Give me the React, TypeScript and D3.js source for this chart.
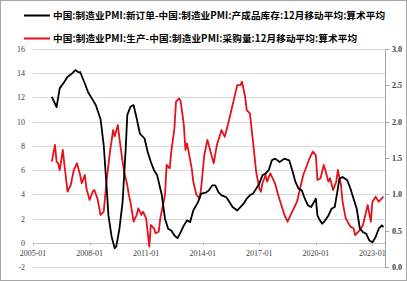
import React from "react";
import * as d3 from "d3";

const blackLabel = "中国:制造业PMI:新订单-中国:制造业PMI:产成品库存:12月移动平均:算术平均";
const redLabel = "中国:制造业PMI:生产-中国:制造业PMI:采购量:12月移动平均:算术平均";

const xTickLabels = ["2005-01", "2008-01", "2011-01", "2014-01", "2017-01", "2020-01", "2023-01"];
const leftTicks = [-2, 0, 2, 4, 6, 8, 10, 12, 14, 16];
const rightTicks = [0, 0.5, 1, 1.5, 2, 2.5, 3];

const blackDates = [
  "2006-01","2006-04","2006-06","2006-09","2006-11","2007-02","2007-04","2007-06","2007-07","2007-10",
  "2007-12","2008-03","2008-05","2008-08","2008-10","2008-12","2009-01","2009-03","2009-05","2009-06",
  "2009-08","2009-10","2009-12","2010-01","2010-03","2010-05","2010-07","2010-09","2010-12","2011-02",
  "2011-04","2011-06","2011-08","2011-11","2012-01","2012-03","2012-05","2012-07","2012-09","2012-11",
  "2013-01","2013-03","2013-05","2013-07","2013-10","2013-12","2014-03","2014-05","2014-07","2014-09",
  "2014-11","2015-01","2015-04","2015-06","2015-08","2015-11","2016-01","2016-03","2016-05","2016-07",
  "2016-09","2017-01","2017-03","2017-05","2017-07","2017-09","2017-11","2018-02","2018-05","2018-08",
  "2018-10","2018-12","2019-02","2019-04","2019-06","2019-08","2019-10","2020-01","2020-02","2020-03",
  "2020-05","2020-07","2020-09","2020-11","2021-01","2021-03","2021-04","2021-06","2021-09","2021-11",
  "2022-01","2022-03","2022-05","2022-07","2022-09","2022-11","2023-01","2023-03","2023-05","2023-07",
  "2023-08"
];
const blackValues = [
  12.05, 11.2, 12.75, 13.3, 13.7, 14.0, 14.26, 14.07, 14.1, 13.15,
  12.45, 11.8, 11.35, 10.2, 8.05, 4.33, 2.26, 0.52, -0.45, -0.3,
  1.16, 3.36, 7.78, 10.54, 11.23, 11.37, 10.26, 9.02, 8.61, 7.5,
  6.67, 5.99, 5.57, 3.92, 1.99, 1.16, 1.02, 0.6, 0.38, 0.88,
  1.43, 1.85, 1.71, 2.67, 3.36, 4.06, 4.14, 4.33, 4.74, 4.74,
  4.19, 3.92, 3.77, 3.36, 2.95, 2.67, 2.95, 3.23, 3.64, 3.92,
  4.06, 4.88, 5.57, 5.71, 5.99, 6.81, 6.95, 6.67, 6.95, 6.81,
  5.99, 5.02, 4.47, 4.33, 3.64, 3.09, 2.95, 3.64, 2.26, 1.99,
  1.57, 1.85, 2.26, 2.81, 2.95, 4.47, 5.3, 5.43, 5.16, 4.47,
  3.64, 2.81, 1.16, 0.88, 0.75, 0.19, 0.05, 0.46, 1.16, 1.43,
  1.29
];

const redDates = [
  "2006-01","2006-03","2006-04","2006-05","2006-06","2006-08","2006-09","2006-11","2007-01","2007-03",
  "2007-05","2007-07","2007-08","2007-10","2007-11","2008-01","2008-03","2008-04","2008-06","2008-08",
  "2008-10","2008-12","2009-02","2009-04","2009-05","2009-07","2009-08","2009-10","2009-11","2010-01",
  "2010-02","2010-03","2010-05","2010-07","2010-08","2010-10","2010-11","2011-01","2011-03","2011-04",
  "2011-06","2011-07","2011-09","2011-10","2012-01","2012-02","2012-04","2012-05","2012-07","2012-08",
  "2012-10","2012-11","2013-01","2013-02","2013-03","2013-04","2013-06","2013-07","2013-09","2013-11",
  "2013-12","2014-02","2014-04","2014-06","2014-08","2014-10","2014-12","2015-01","2015-03","2015-05",
  "2015-07","2015-09","2015-11","2016-01","2016-02","2016-04","2016-05","2016-07","2016-09","2016-11",
  "2017-01","2017-02","2017-03","2017-05","2017-06","2017-08","2017-09","2017-11","2018-01","2018-03",
  "2018-05","2018-07","2018-09","2018-11","2019-01","2019-03","2019-05","2019-07","2019-09","2019-11",
  "2020-01","2020-02","2020-04","2020-06","2020-07","2020-09","2020-10","2020-12","2021-02","2021-03",
  "2021-05","2021-06","2021-08","2021-11","2022-01","2022-02","2022-05","2022-07","2022-08","2022-10",
  "2022-12","2023-01","2023-03","2023-05","2023-07","2023-08"
];
const redValues = [
  1.449, 1.679, 1.449, 1.427, 1.335, 1.61, 1.404, 1.036, 1.128, 1.335,
  1.427, 1.266, 1.152, 1.266, 1.083, 0.922, 1.036, 1.06, 0.945, 0.716,
  0.761, 1.221, 1.587, 1.885, 1.8, 1.954, 1.771, 1.449, 1.311, 1.128,
  0.991, 0.899, 0.623, 0.716, 0.808, 0.716, 0.761, 0.67, 0.279, 0.578,
  0.533, 0.464, 0.486, 0.67, 0.991, 1.404, 1.358, 1.587, 1.909, 2.275,
  2.321, 2.275, 1.954, 1.61, 1.702, 1.587, 1.358, 1.174, 0.991, 0.945,
  1.083, 1.541, 1.748, 1.587, 1.427, 1.679, 1.816, 1.885, 1.793, 1.954,
  2.137, 2.321, 2.504, 2.504, 2.55, 2.343, 2.16, 2.115, 1.724, 1.311,
  1.083, 1.036, 1.152, 1.266, 1.174, 1.289, 1.243, 1.152, 0.991, 0.853,
  0.716, 0.623, 0.716, 0.808, 0.899, 1.083, 1.266, 1.38, 1.496, 1.587,
  1.541, 1.197, 1.221, 1.404, 1.335, 1.174, 1.221, 1.06, 1.174, 1.335,
  1.128, 0.899, 0.67, 0.555, 0.533, 0.44, 0.509, 0.578, 0.67, 0.853,
  0.623, 0.899, 0.967, 0.899, 0.945, 0.967
];

const monthIndex = (s: string) => {
  const [y, m] = s.split("-").map(Number);
  return (y - 2005) * 12 + (m - 1);
};

export default function App() {
  const W = 407, H = 281;
  const left = 33, right = 385, top = 49, bottom = 267;
  const x = d3.scaleLinear().domain([0, 224]).range([left, right]);
  const yL = d3.scaleLinear().domain([-2, 16]).range([bottom, top]);
  const yR = d3.scaleLinear().domain([0, 3]).range([bottom, top]);

  const blackData = blackDates.map((d, i) => [monthIndex(d), blackValues[i]] as [number, number]);
  const redData = redDates.map((d, i) => [monthIndex(d), redValues[i]] as [number, number]);

  const lineL = d3.line<[number, number]>().x(d => x(d[0])).y(d => yL(d[1]));
  const lineR = d3.line<[number, number]>().x(d => x(d[0])).y(d => yR(d[1]));

  const serif = "'Liberation Serif', 'Times New Roman', serif";
  const cjk = "'Noto Sans CJK SC', sans-serif";
  const red = "#e3121b";

  return (
    <svg width={W} height={H} style={{ position: "absolute", left: 0, top: 0, background: "#fff" }}>
      <rect x={0.5} y={0.5} width={W - 1} height={H - 1} fill="#fff" stroke="#a6a6a6" />
      {/* legend */}
      <line x1={24} x2={50} y1={15.5} y2={15.5} stroke="#000" strokeWidth={2} />
      <text x={53} y={19} fontFamily={cjk} fontSize={9.6} fontWeight="bold" textLength={332} lengthAdjust="spacing" fill="#000">{blackLabel}</text>
      <line x1={24} x2={50} y1={38.5} y2={38.5} stroke={red} strokeWidth={2} />
      <text x={53} y={42} fontFamily={cjk} fontSize={9.6} fontWeight="bold" textLength={304} lengthAdjust="spacing" fill="#000">{redLabel}</text>

      {/* gridlines */}
      {leftTicks.map(t => (
        <line key={"g" + t} x1={left} x2={right} y1={Math.round(yL(t)) + 0.5} y2={Math.round(yL(t)) + 0.5} stroke="#d9d9d9" strokeWidth={1} />
      ))}
      {/* left labels */}
      {leftTicks.map(t => (
        <text key={"l" + t} x={25} y={yL(t) + 3} textAnchor="end" fontFamily={serif} fontSize={8} fill="#404040">{t}</text>
      ))}
      {/* right axis */}
      <line x1={right + 0.5} x2={right + 0.5} y1={top} y2={bottom} stroke="#a6a6a6" />
      {rightTicks.map(t => (
        <g key={"r" + t}>
          <line x1={right} x2={right + 4} y1={Math.round(yR(t)) + 0.5} y2={Math.round(yR(t)) + 0.5} stroke="#a6a6a6" />
          <text x={392} y={yR(t) + 3} fontFamily={serif} fontSize={8} fontWeight="bold" fill="#404040">{t.toFixed(1)}</text>
        </g>
      ))}
      {/* x axis at 0 */}
      <line x1={left} x2={right} y1={Math.round(yL(0)) + 0.5} y2={Math.round(yL(0)) + 0.5} stroke="#bfbfbf" />
      {xTickLabels.map(l => {
        const xx = x(monthIndex(l));
        return (
          <g key={l}>
            <line x1={Math.round(xx) + 0.5} x2={Math.round(xx) + 0.5} y1={yL(0)} y2={yL(0) + 3} stroke="#bfbfbf" />
            <text x={xx} y={255.5} textAnchor="middle" fontFamily={serif} fontSize={8} fill="#404040">{l}</text>
          </g>
        );
      })}

      <path d={lineR(redData) || ""} fill="none" stroke={red} strokeWidth={1.8} strokeLinejoin="round" />
      <path d={lineL(blackData) || ""} fill="none" stroke="#000" strokeWidth={1.8} strokeLinejoin="round" />
    </svg>
  );
}
